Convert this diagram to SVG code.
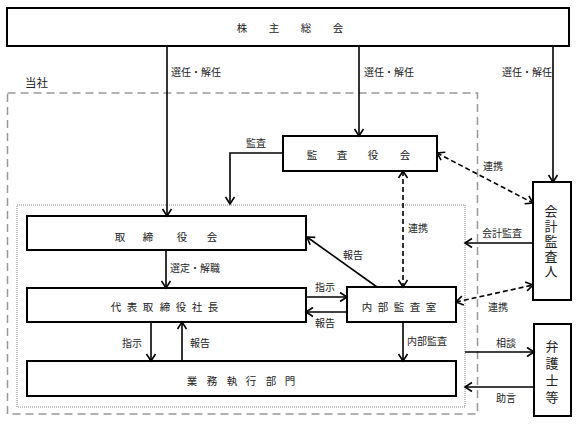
<svg xmlns="http://www.w3.org/2000/svg" width="577" height="424" viewBox="0 0 577 424">
<defs>
<marker id="ah" markerUnits="userSpaceOnUse" markerWidth="12" markerHeight="12" viewBox="0 0 12 12" refX="10" refY="6" orient="auto-start-reverse">
<path d="M3,1.5 L10,6 L3,10.5" fill="none" stroke="#000" stroke-width="1.6"/>
</marker>
</defs>
<style>
.box{fill:#fff;stroke:#000;stroke-width:2}
.ar{fill:none;stroke:#000;stroke-width:1.6;marker-end:url(#ah)}
.da{fill:none;stroke:#000;stroke-width:1.6;stroke-dasharray:5 3;marker-end:url(#ah);marker-start:url(#ah)}
text{font-family:"Noto Sans CJK JP","Noto Sans",sans-serif;fill:#222}
.lb{font-size:10px}
.bt{font-size:10.5px;text-anchor:middle;dominant-baseline:central}
.vt{font-size:13px;writing-mode:vertical-rl}
</style>
<rect x="7.5" y="93" width="470" height="321" fill="none" stroke="#999" stroke-width="1.5" stroke-dasharray="8 5"/>
<rect x="17" y="205" width="448" height="202" fill="none" stroke="#888" stroke-width="1" stroke-dasharray="1 1"/>
<text x="25" y="87" font-size="11.5px">当社</text>
<g id="kabunushi"><rect class="box" x="7" y="8" width="562" height="38"/><text class="bt" x="242 274 306 338" y="27">株主総会</text></g>
<g id="kansayakukai"><rect class="box" x="283" y="136" width="154" height="35"/><text class="bt" x="312 342 373 405" y="154">監査役会</text></g>
<g id="torishimariyakukai"><rect class="box" x="27" y="216" width="279" height="34"/><text class="bt" x="120 148 182 212" y="236">取締役会</text></g>
<g id="shacho"><rect class="box" x="27" y="288" width="279" height="34"/><text class="bt" x="116 132 148 165 181 197 213" y="306">代表取締役社長</text></g>
<g id="naibu"><rect class="box" x="347" y="287" width="109" height="35"/><text class="bt" x="367 383 399 415 431" y="306">内部監査室</text></g>
<g id="gyomu"><rect class="box" x="27" y="361" width="429" height="35"/><text class="bt" x="192 212 232 251 271 290" y="380">業務執行部門</text></g>
<g id="kaikei"><rect class="box" x="533" y="182" width="38" height="118"/><text class="vt" x="551" y="204.5" style="letter-spacing:2px">会計監査人</text></g>
<g id="bengoshi"><rect class="box" x="534" y="324" width="37" height="92"/><text class="vt" x="552" y="339.5" style="letter-spacing:4px">弁護士等</text></g>
<g id="connectors">
<path class="ar" d="M167,46 V216"/>
<path class="ar" d="M359,46 V136"/>
<path class="ar" d="M553,46 V182"/>
<path class="ar" d="M283,153 H230 V204"/>
<path class="ar" d="M166,250 V288"/>
<path class="ar" d="M151,322 V361"/>
<path class="ar" d="M182,361 V322"/>
<path class="ar" d="M306,297 H347"/>
<path class="ar" d="M347,312 H306"/>
<path class="ar" d="M377,287 L307,237"/>
<path class="da" d="M403,171 V287"/>
<path class="da" d="M437,153 L533,203"/>
<path class="da" d="M456,302 L533,285"/>
<path class="ar" d="M533,243 H465"/>
<path class="ar" d="M403,322 V361"/>
<path class="ar" d="M465,352 H534"/>
<path class="ar" d="M534,387 H465"/>
</g>
<g id="labels">
<text class="lb" x="171" y="76">選任・解任</text>
<text class="lb" x="364" y="76">選任・解任</text>
<text class="lb" x="502" y="76">選任・解任</text>
<text class="lb" x="246" y="147">監査</text>
<text class="lb" x="170" y="272">選定・解職</text>
<text class="lb" x="122" y="347">指示</text>
<text class="lb" x="190" y="347">報告</text>
<text class="lb" x="315" y="291">指示</text>
<text class="lb" x="315" y="327">報告</text>
<text class="lb" x="343" y="259">報告</text>
<text class="lb" x="408" y="232">連携</text>
<text class="lb" x="483" y="170">連携</text>
<text class="lb" x="482" y="237">会計監査</text>
<text class="lb" x="488" y="311">連携</text>
<text class="lb" x="407" y="345">内部監査</text>
<text class="lb" x="496" y="347">相談</text>
<text class="lb" x="496" y="402">助言</text>
</g>
</svg>
